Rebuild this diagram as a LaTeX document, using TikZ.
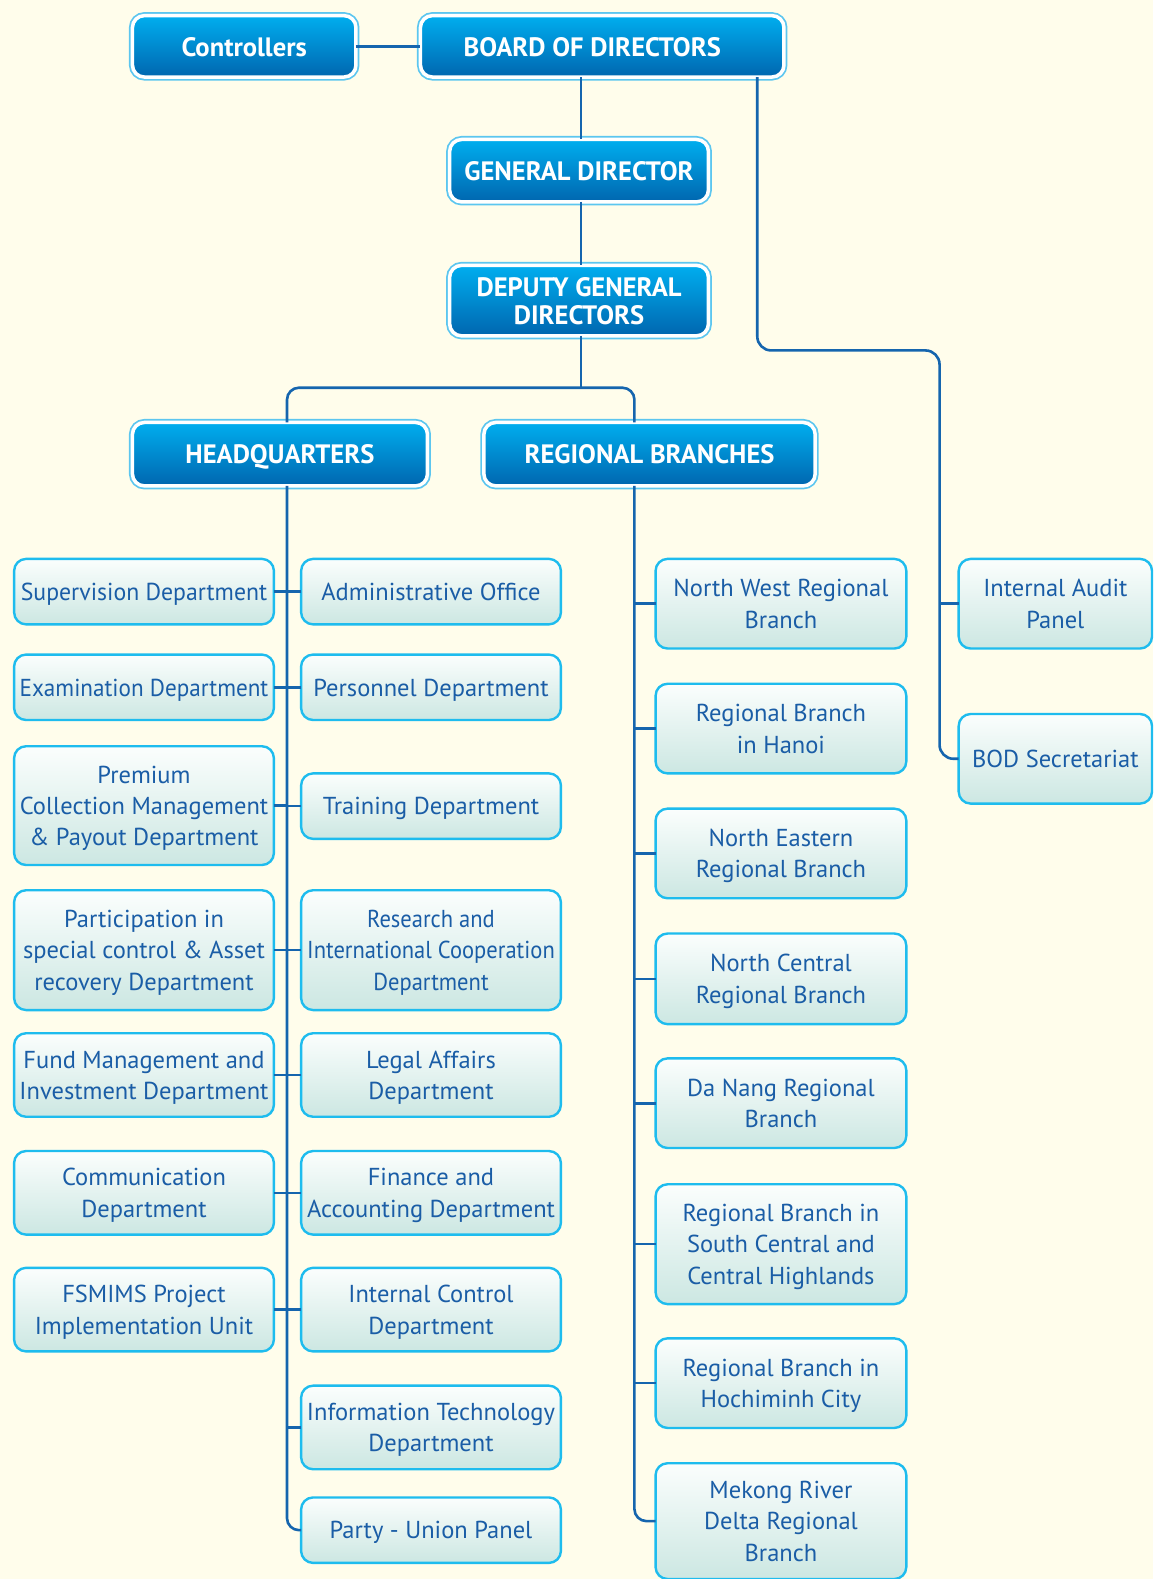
\documentclass[tikz,border=0pt]{standalone}
\usepackage{fontspec}
\setmainfont{PT Sans}
\definecolor{bg}{HTML}{FFFDEB}
\definecolor{lc}{HTML}{1565AE}
\definecolor{ltxt}{HTML}{1A5DA6}
\definecolor{lbor}{HTML}{1EBCEE}
\definecolor{ltop}{HTML}{FBFEFD}
\definecolor{lbot}{HTML}{CCE7E2}
\definecolor{dtop}{HTML}{00AEEF}
\definecolor{dbot}{HTML}{0066AF}
\definecolor{dout}{HTML}{5CC6EF}
\newcommand\lfont{\fontsize{24.5bp}{31.3bp}\selectfont}
\newcommand\dfont{\bfseries\fontsize{26.6bp}{27.5bp}\selectfont}
\newcommand\lstrut{\rule[-6bp]{0pt}{29.6bp}}
\newcommand\dstrut{\rule[-6bp]{0pt}{31.6bp}}
\newcommand\bstrut{\rule[-6bp]{0pt}{6bp}}
\let\tstrut\lstrut
\newcommand\hsq[2]{\scalebox{#1}[1]{#2}}
% style, name, x1, y1, x2, y2, text
\newcommand\bx[7]{\node[#1, minimum width={(#5-#3)*1.00699bp}, minimum height={(#6-#4)*1.00699bp}]
  (#2) at ({(#3+#5)/2},{(#4+#6)/2}) {\tstrut#7\bstrut};}
\tikzset{
  lbox/.style={draw=lbor, line width=2.4bp, rounded corners=12bp, top color=ltop, bottom color=lbot,
    inner sep=0pt, outer sep=0pt, text=ltxt, align=center, font=\lfont, /utils/exec=\let\tstrut\lstrut},
  dbox/.style={preaction={draw=dout, line width=7bp}, draw=white, line width=3.5bp, rounded corners=12bp,
    top color=dtop, bottom color=dbot, inner sep=0pt, outer sep=0pt, text=white, align=center, font=\dfont,
    /utils/exec=\let\tstrut\dstrut},
  conn/.style={draw=lc, line width=2.6bp},
}
\begin{document}
\begin{tikzpicture}[x=1.00699bp, y=-1.00699bp]
\useasboundingbox[fill=bg] (0,0) rectangle (1145,1568);
% dark boxes (inner boundaries)
\bx{dbox}{ctrl}{131.5}{15.5}{353.5}{76.5}{Controllers}
\bx{dbox}{bod}{417.5}{15.5}{778.5}{76.5}{BOARD OF DIRECTORS\kern20bp}
\bx{dbox}{gd}{446.5}{138.5}{703.5}{200.5}{GENERAL DIRECTOR}
\bx{dbox}{dgd}{446.5}{263.5}{703.5}{333.5}{DEPUTY GENERAL\\DIRECTORS}
\bx{dbox}{hq}{131.5}{419.5}{424.5}{482.5}{HEADQUARTERS}
\bx{dbox}{rb}{480.5}{419.5}{809.5}{482.5}{REGIONAL BRANCHES}
% trunk coordinates
\coordinate (hqx) at (285,0);
\coordinate (rbx) at (630,0);
\coordinate (rx) at (752,0);
\coordinate (bend) at (933,348);
\coordinate (split) at (577,385);
% left column
\bx{lbox}{sup}{14}{555}{272}{620}{\hsq{0.97}{Supervision Department}}
\bx{lbox}{exa}{14}{650}{272}{715}{\hsq{0.945}{Examination Department}}
\bx{lbox}{pre}{14}{741}{272}{859}{Premium\\Collection Management\\\& Payout Department}
\bx{lbox}{par}{14}{884}{272}{1003}{Participation in\\special control \& Asset\\recovery Department}
\bx{lbox}{fun}{14}{1026}{272}{1109}{Fund Management and\\Investment Department}
\bx{lbox}{com}{14}{1143}{272}{1226}{Communication\\Department}
\bx{lbox}{fsm}{14}{1259}{272}{1342}{FSMIMS Project\\Implementation Unit}
% middle column
\bx{lbox}{adm}{299}{555}{557}{620}{Administrative Office}
\bx{lbox}{per}{299}{650}{557}{715}{Personnel Department}
\bx{lbox}{tra}{299}{768}{557}{833}{Training Department}
\bx{lbox}{res}{299}{884}{557}{1003}{\hsq{0.92}{Research and}\\\hsq{0.92}{International Cooperation}\\\hsq{0.92}{Department}}
\bx{lbox}{leg}{299}{1026}{557}{1109}{Legal Affairs\\Department}
\bx{lbox}{fin}{299}{1143}{557}{1226}{Finance and\\Accounting Department}
\bx{lbox}{inc}{299}{1259}{557}{1342}{Internal Control\\Department}
\bx{lbox}{itd}{299}{1376}{557}{1459}{Information Technology\\Department}
\bx{lbox}{pty}{299}{1487}{557}{1552}{Party - Union Panel}
% regional column
\bx{lbox}{nw}{651}{555}{900}{644}{North West Regional\\Branch}
\bx{lbox}{hn}{651}{679}{900}{768}{Regional Branch\\in Hanoi}
\bx{lbox}{ne}{651}{803}{900}{892}{North Eastern\\Regional Branch}
\bx{lbox}{nc}{651}{927}{900}{1017}{North Central\\Regional Branch}
\bx{lbox}{dn}{651}{1051}{900}{1140}{Da Nang Regional\\Branch}
\bx{lbox}{sc}{651}{1176}{900}{1295}{Regional Branch in\\South Central and\\Central Highlands}
\bx{lbox}{hcm}{651}{1329}{900}{1418}{Regional Branch in\\Hochiminh City}
\bx{lbox}{mek}{651}{1453}{900}{1568}{Mekong River\\Delta Regional\\Branch}
% far right
\bx{lbox}{ia}{952}{555}{1144}{644}{Internal Audit\\Panel}
\bx{lbox}{bods}{952}{709}{1144}{798}{BOD Secretariat}
% connectors
\draw[conn] (ctrl.east) -- (bod.west);
\draw[conn] (bod.south -| split) -- (gd.north -| split);
\draw[conn] (gd.south -| split) -- (dgd.north -| split);
\draw[conn] (dgd.south -| split) -- (split);
\draw[conn, rounded corners=12bp] (hq.north -| hqx) |- (split) -| (rb.north -| rbx);
\draw[conn, rounded corners=14bp] (bod.south -| rx) |- (bend) |- (bods.west);
\draw[conn] (ia.west) -- (ia.west -| bend);
\draw[conn, rounded corners=12bp] (hq.south -| hqx) |- (pty.west);
\foreach \n in {sup,exa,pre,par,fun,com,fsm}{\draw[conn] (\n.east) -- (\n.east -| hqx);}
\foreach \n in {adm,per,tra,res,leg,fin,inc,itd}{\draw[conn] (\n.west) -- (\n.west -| hqx);}
\draw[conn, rounded corners=12bp] (rb.south -| rbx) |- (mek.west);
\foreach \n in {nw,hn,ne,nc,dn,sc,hcm}{\draw[conn] (\n.west) -- (\n.west -| rbx);}
\end{tikzpicture}
\end{document}
